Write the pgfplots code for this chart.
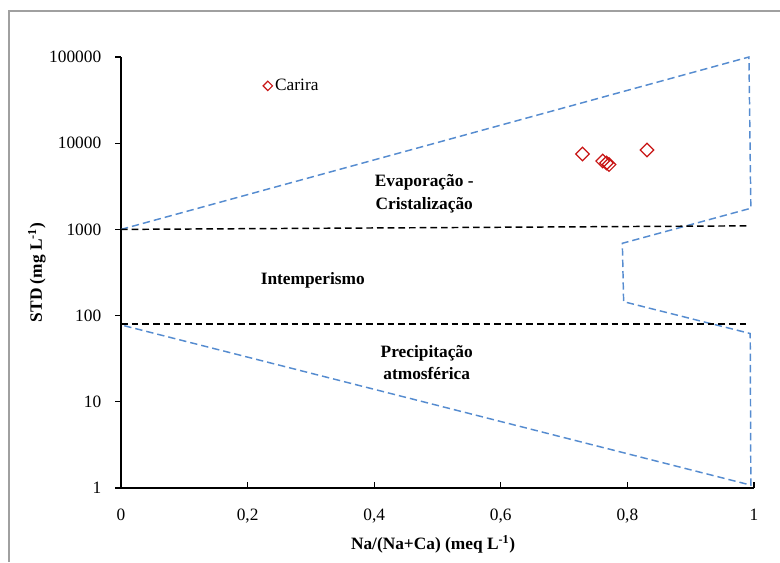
\documentclass[border=0pt]{standalone}
\usepackage{pgfplots}
\pgfplotsset{compat=1.18}
\usepackage{fontspec}
\setmainfont{Liberation Serif}

\definecolor{gibbsblue}{RGB}{86,140,208}
\definecolor{ptred}{RGB}{200,20,20}
\definecolor{framegray}{RGB}{160,160,160}

\newcommand{\lblfont}{\fontsize{13}{17}\selectfont}

\begin{document}
\begin{tikzpicture}
  % fixed page size, 1 px of the reference = 0.75 pt
  \useasboundingbox (0pt,0pt) rectangle (585pt,421.5pt);
  \draw[framegray, line width=1.1pt] (6.75pt,0pt) -- (6.75pt,413.25pt) -- (585pt,413.25pt);

  \begin{axis}[
    at={(90.75pt,55.5pt)}, anchor=south west,
    scale only axis,
    width=474.75pt, height=323.25pt,
    xmin=0, xmax=1,
    ymode=log, ymin=1, ymax=100000,
    clip=false,
    axis lines*=left,
    axis line style={line width=1.1pt},
    xtick={0,0.2,0.4,0.6,0.8,1},
    xticklabels={0,{0,2},{0,4},{0,6},{0,8},1},
    ytick={1,10,100,1000,10000,100000},
    yticklabels={1,10,100,1000,10000,100000},
    yminorticks=false,
    tick align=outside,
    major tick length=4.3pt,
    tick style={black, line width=0.9pt},
    xtick style={yshift=4.3pt},
    tick label style={font=\lblfont},
    xticklabel style={yshift=-8pt},
    yticklabel style={xshift=-7pt},
    xlabel={\textbf{Na/(Na+Ca) (meq L\textsuperscript{-1})}},
    ylabel={\textbf{STD (mg L\textsuperscript{-1})}},
    label style={font=\lblfont},
    xlabel style={at={(axis description cs:0.493,-0.13)}, anchor=center},
    ylabel style={at={(axis description cs:-0.133,0.5)}, anchor=center},
    legend style={at={(axis description cs:0.224,0.933)}, anchor=west,
      draw=none, fill=none, font=\lblfont, inner sep=0pt},
    legend image code/.code={\draw[#1] plot coordinates {(0.15cm,0cm)};},
    legend image post style={mark size=2.5pt},
  ]
    % samples
    \addplot[only marks, mark=square, mark size=3.6pt, color=ptred, line width=0.9pt,
      mark options={rotate=45}] coordinates {
      (0.729,7500)
      (0.761,6210)
      (0.767,5890)
      (0.771,5660)
      (0.831,8340)
    };
    \addlegendentry{Carira}

    % Gibbs boundaries
    \addplot[gibbsblue, dash pattern=on 5.5pt off 3pt, line width=1.1pt, forget plot] coordinates {
      (0,1000) (0.992,100000) (0.995,1760) (0.792,690) (0.794,145)
      (0.994,62) (0.995,1.08) (0,78)
    };
    \addplot[black, dash pattern=on 5pt off 3pt, line width=1.1pt, forget plot] coordinates {
      (0,1000) (0.994,1100)
    };
    \addplot[black, dash pattern=on 5pt off 3pt, line width=1.1pt, forget plot] coordinates {
      (0,80) (0.994,80)
    };

    \node[font=\lblfont\bfseries, align=center] at (axis cs:0.479,2600)
      {Evaporação -\\Cristalização};
    \node[font=\lblfont\bfseries] at (axis cs:0.303,259) {Intemperismo};
    \node[font=\lblfont\bfseries, align=center] at (axis cs:0.483,28.6)
      {Precipitação\\atmosférica};
  \end{axis}
\end{tikzpicture}
\end{document}
